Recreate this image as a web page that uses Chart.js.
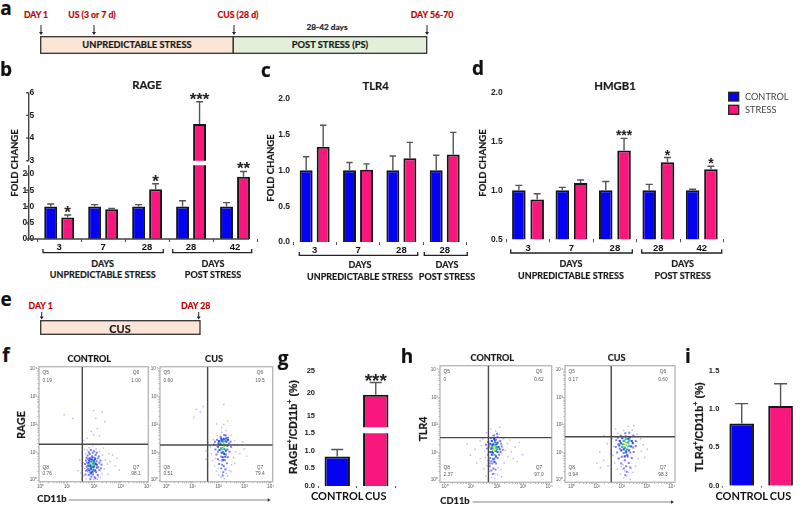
<!DOCTYPE html>
<html><head><meta charset="utf-8">
<script src="https://cdn.jsdelivr.net/npm/chart.js@4"></script>
<style>
html,body{margin:0;padding:0;background:#fff;width:800px;height:505px;overflow:hidden}
#page{position:relative;width:800px;height:505px;overflow:hidden}
canvas{position:absolute}
svg{position:absolute;left:0;top:0}
.t{position:absolute;white-space:nowrap;font-family:Lato,sans-serif;font-weight:700;color:#1a1a1a;line-height:1;-webkit-text-stroke:.2px currentColor}
sup{font-size:70%;line-height:0}
</style></head><body><div id="page"></div>
<script>
const BLUE='#0303f2', PINK='#f9177e';
// Panel b: RAGE
const bCats=['3','7','28','28','42'];
const bControl=[1,1,1,1,1];
const bControlTop=[1.08,1.06,1.06,1.18,1.12];
const bStress=[0.66,0.92,1.53,4.62,1.92];
const bStressTop=[0.74,0.94,1.70,5.60,2.08];
const bStars=['*','','*','***','**'];
// Panel c: TLR4
const cCats=['3','7','28','28'];
const cControl=[1,1,1,1];
const cControlTop=[1.19,1.11,1.20,1.21];
const cStress=[1.33,1.01,1.17,1.22];
const cStressTop=[1.63,1.09,1.39,1.53];
// Panel d: HMGB1
const dCats=['3','7','28','28','42'];
const dControl=[1,1,1,1,1];
const dControlTop=[1.05,1.03,1.09,1.06,1.01];
const dStress=[0.905,1.075,1.405,1.285,1.215];
const dStressTop=[0.965,1.105,1.53,1.335,1.245];
const dStars=['','','***','*','*'];
// Panel g, i
const gCats=['CONTROL','CUS'];
const gValues=[0.84,19.7];
const gTops=[1.04,22.4];
const iCats=['CONTROL','CUS'];
const iValues=[0.81,1.04];
const iTops=[1.07,1.33];
// Flow panels: log-decade coordinates, flat x,y lists by density colour
const f1Sparse=[1.62,.15,1.7,.05,1.75,.3,1.66,.42,1.6,.62,1.58,.8,1.68,.95,1.74,1.08,1.82,1.16,1.95,1.22,2.08,1.12,2.2,1.02,2.32,.9,2.42,.72,2.5,.58,2.38,.4,2.3,.22,2.24,.08,2.12,.03,1.98,.02,1.85,.06,1.55,.5,2.6,.66,2.78,.5,2.95,.36,2.7,.9,2.52,.2,1.4,.34,1.46,.72,2.86,.78,1.75,1.5,1.98,1.62,2.12,1.85,2.06,2.22,2.3,2.45,1.98,2.5,1.62,1.42,.88,2.35,1.2,2.22,2.4,2.1,2.2,1.6,1.9,1.75,2.35,1.15,2.15,.12,1.5,.25,2.55,.95,1.64,1.1];
const f1Mid=[1.68,.2,1.72,.48,1.7,.7,1.76,.88,1.8,1.0,1.88,1.08,2.0,1.04,2.1,.98,2.18,.85,2.24,.7,2.28,.55,2.2,.35,2.14,.18,2.02,.1,1.9,.12,1.8,.18,1.74,.36,1.66,.58,1.72,.8,1.84,.94,1.95,.98,2.06,.9,2.14,.78,2.2,.62,2.16,.46,2.08,.28,1.96,.2,1.84,.28,1.78,.42,1.74,.62,1.78,.76,1.92,.86,2.02,.8,2.1,.68,1.7,.33,2.26,.42,1.86,.03,2.05,.06];
const f1Dense=[1.82,.35,1.86,.5,1.8,.62,1.84,.78,1.92,.74,2.0,.7,2.06,.58,2.1,.45,2.04,.34,1.94,.3,1.88,.42,1.98,.46,1.82,.7,2.04,.76,1.88,.24,2.1,.55,1.78,.52,1.94,.82];
const f1Core=[1.86,.56,1.9,.66,1.96,.6,2.0,.52,1.94,.48,1.9,.38,1.98,.36,2.02,.62,1.88,.74,1.92,.28];
const f1Hot=[1.93,.56,1.95,.66,1.98,.44,1.9,.48];
const f2Sparse=[1.68,1.2,1.72,.95,1.78,.7,1.84,.5,1.92,.32,2.0,.18,2.1,.1,2.22,.05,2.35,.14,2.42,.34,2.5,.55,2.58,.8,2.66,1.02,2.72,1.25,2.62,1.42,2.48,1.62,2.3,1.78,2.12,1.72,1.95,1.6,1.8,1.45,2.82,.95,2.98,1.12,3.08,.86,1.6,1.35,1.5,1.05,1.52,.75,2.2,2.0,2.35,2.12,1.92,2.02,1.4,2.65,1.15,2.55,1.3,2.45,1.05,2.25,2.2,2.72,2.48,.3,2.62,.6,1.98,.42,2.05,.7,2.28,.42,2.3,.24,1.88,.78,2.92,1.38,2.12,1.88];
const f2Mid=[1.82,1.28,1.88,1.1,1.92,.92,1.98,.75,2.02,.58,2.1,.42,2.18,.28,2.26,.38,2.32,.6,2.36,.82,2.42,1.02,2.48,1.2,2.46,1.38,2.36,1.52,2.22,1.62,2.08,1.56,1.94,1.45,1.86,1.38,2.14,.55,2.14,.7,2.24,.72,2.2,.5,2.1,.85,2.28,.92,1.98,1.02,2.34,1.1,2.02,1.3,1.96,1.22,2.4,1.32,2.16,.16,2.28,1.6];
const f2Dense=[1.98,1.2,2.02,1.4,2.1,1.5,2.2,1.48,2.3,1.38,2.34,1.24,2.28,1.06,2.22,.94,2.12,.98,2.04,1.08,2.06,1.26,2.16,.82,2.3,1.5,2.12,1.42,2.36,1.44,2.0,1.32,2.18,.72,2.26,.84];
const f2Core=[2.1,1.14,2.14,1.26,2.18,1.38,2.24,1.26,2.22,1.12,2.16,1.02,2.08,1.32,2.26,1.42,2.12,1.44,2.2,.96];
const f2Hot=[2.16,1.18,2.2,1.32,2.15,1.1,2.22,1.22,2.18,1.42];
const h1Sparse=[.98,.9,1.15,1.12,1.35,.78,1.22,.62,1.4,1.25,1.5,.4,1.58,.15,1.66,.05,1.78,.1,1.9,.06,2.02,.2,2.15,.38,2.28,.62,2.42,.85,2.55,1.02,2.7,1.2,2.86,1.36,2.62,.78,2.98,.92,1.46,1.5,1.52,1.05,1.6,1.72,1.76,1.85,1.95,1.78,2.08,1.66,2.25,1.5,2.4,1.32,2.1,1.92,1.82,1.62,1.72,.32,1.92,.22,2.04,.44,1.35,1.42,2.32,1.08,2.5,1.45,1.62,.52,.85,1.3,2.78,.66,1.55,.82,2.18,.12];
const h1Mid=[1.62,1.15,1.66,.92,1.68,.7,1.72,.5,1.78,.35,1.86,.42,1.96,.6,2.02,.8,2.14,1.02,2.18,1.22,2.12,1.42,2.02,1.56,1.88,1.62,1.76,1.52,1.66,1.38,1.7,1.22,1.74,.8,1.82,.6,1.9,.78,1.94,.38,1.84,.22,1.78,.68,2.08,.92,2.22,1.1,1.58,1.28,2.0,1.68,1.96,1.46,2.16,1.32,1.72,.6];
const h1Dense=[1.74,1.32,1.78,1.14,1.8,.92,1.86,.76,1.96,.86,2.02,1.02,2.06,1.2,2.02,1.36,1.92,1.46,1.8,1.42,1.74,1.02,1.84,1.28,1.98,1.3,1.9,.66,2.1,1.12,1.82,1.02,1.88,1.5];
const h1Core=[1.82,1.18,1.86,1.32,1.92,1.38,1.98,1.2,1.96,1.06,1.9,.92,1.84,.98,2.0,1.12,1.8,1.26,1.94,1.28];
const h1Hot=[1.88,1.14,1.92,1.06,1.9,1.22,1.84,1.08,1.94,1.16];
const h2Sparse=[1.12,1.02,1.28,.72,1.42,1.32,1.55,.95,1.62,1.5,1.68,1.22,1.72,.62,1.82,.4,1.95,.22,2.08,.08,2.2,.15,2.34,.02,2.45,.28,2.55,.5,2.66,.78,2.78,1.05,2.86,1.28,2.76,1.5,2.62,1.68,2.42,1.82,2.25,1.95,2.08,1.8,1.85,1.7,1.0,.62,1.45,.52,2.92,.82,3.02,1.12,1.3,1.62,1.75,1.85,2.38,.42,2.28,.28,2.12,.34,1.98,.5,2.48,1.98,2.05,.55,1.65,.9,1.15,.45];
const h2Mid=[1.78,1.45,1.76,1.2,1.82,1.0,1.88,.78,1.98,.6,2.08,.42,2.18,.5,2.28,.62,2.4,.8,2.48,1.02,2.56,1.24,2.56,1.42,2.46,1.62,2.3,1.72,2.14,1.7,1.96,1.62,1.84,1.54,2.0,.85,2.12,.72,2.24,.85,2.34,1.0,1.92,1.14,2.08,.98,2.2,.3,2.14,.18,2.46,1.18,2.34,.46,1.86,1.3];
const h2Dense=[1.92,1.42,1.9,1.26,1.98,1.08,2.08,1.12,2.18,1.0,2.28,1.08,2.38,1.22,2.4,1.42,2.32,1.55,2.16,1.58,2.02,1.52,2.22,.9,2.12,.86,2.44,1.34,1.96,1.34,2.26,1.5];
const h2Core=[2.04,1.3,2.08,1.42,2.16,1.48,2.26,1.36,2.3,1.24,2.2,1.12,2.12,1.18,2.02,1.2,2.3,1.44,2.16,1.05];
const h2Hot=[2.12,1.3,2.18,1.36,2.2,1.26,2.14,1.4,2.24,1.2];
const flowDecades=[0,1,2,3,4];

const page=document.getElementById('page');
const NS='http://www.w3.org/2000/svg';
const svg=document.createElementNS(NS,'svg');svg.setAttribute('width',800);svg.setAttribute('height',505);page.appendChild(svg);
function el(n,a){const e=document.createElementNS(NS,n);for(const k in a)e.setAttribute(k,a[k]);svg.appendChild(e);return e;}
function box(x1,y1,x2,y2,f,s,w){el('rect',{x:x1,y:y1,width:x2-x1,height:y2-y1,fill:f,stroke:s||'#333',"stroke-width":w==null?1.3:w});}
function arrow(x,y1,y2){el('line',{x1:x,y1:y1,x2:x,y2:y2-2,stroke:'#222',"stroke-width":1});el('path',{d:`M${x-2} ${y2-3}L${x+2} ${y2-3}L${x} ${y2}Z`,fill:'#222'});}
function bracket(x1,x2,y1,y2){el('path',{d:`M${x1} ${y1}L${x1} ${y2}L${x2} ${y2}L${x2} ${y1}`,fill:'none',stroke:'#222',"stroke-width":1.3});}
function hArrow(x1,x2,y){el('line',{x1:x1,y1:y,x2:x2-3,y2:y,stroke:'#666',"stroke-width":.8});el('path',{d:`M${x2-3} ${y-1.8}L${x2} ${y}L${x2-3} ${y+1.8}Z`,fill:'#333'});}
function txt(s,cx,cy,size,o){o=o||{};const d=document.createElement('div');d.className='t';d.innerHTML=s;
 d.style.fontSize=size+'px';d.style.left=cx+'px';d.style.top=cy+'px';
 if(o.font)d.style.fontFamily=o.font;if(o.color)d.style.color=o.color;if(o.weight){d.style.fontWeight=o.weight;d.style.webkitTextStroke='0';}
 d.style.transform=(o.left?'translate(0,-50%)':'translate(-50%,-50%)')+(o.rot?' rotate(-90deg)':'');
 page.appendChild(d);return d;}

const errorBars={id:'errorBars',afterDatasetsDraw(c,a,o){
 const ctx=c.ctx,Y=c.scales.y;ctx.save();
 c.data.datasets.forEach((ds,i)=>{const m=c.getDatasetMeta(i);
  ds.data.forEach((v,j)=>{if(v==null||v>Y.max)return;const top=ds.tops[j];const x=m.data[j].x,y0=Y.getPixelForValue(v),y1=Y.getPixelForValue(top);
   ctx.strokeStyle='#555';ctx.lineWidth=1.4;ctx.beginPath();ctx.moveTo(x,y0);ctx.lineTo(x,y1);ctx.moveTo(x-o.cap,y1);ctx.lineTo(x+o.cap,y1);ctx.stroke();
   const st=ds.stars&&ds.stars[j];if(st){ctx.fillStyle='#222';ctx.font=`bold ${o.starSize}px "Liberation Sans"`;ctx.textAlign='center';ctx.textBaseline='alphabetic';ctx.fillText(st,x,y1-o.starGap+o.starSize*.58);}
  });});
 ctx.strokeStyle='#444';ctx.lineWidth=1.4;ctx.beginPath();
 ctx.moveTo(o.axisX,Y.bottom+(o.showX?.7:0));ctx.lineTo(o.axisX,Y.top);
 Y.ticks.forEach(t=>{const p=Y.getPixelForValue(t.value);ctx.moveTo(o.axisX-2.5,p);ctx.lineTo(o.axisX,p);});
 if(o.showX){ctx.moveTo(o.axisX,Y.bottom);ctx.lineTo(o.axisRight,Y.bottom);}
 ctx.stroke();ctx.restore();}};

function barChart(c){
 const ML=46,MT=10,MR=12,MB=18;
 const cl=Math.floor(c.l-ML),ct=Math.floor(c.t-MT);
 const W=Math.ceil(c.r-cl+MR),H=Math.ceil(c.b-ct+MB);
 const cv=document.createElement('canvas');cv.width=W;cv.height=H;cv.style.left=cl+'px';cv.style.top=ct+'px';cv.style.width=W+'px';cv.style.height=H+'px';page.appendChild(cv);
 new Chart(cv,{type:'bar',plugins:[errorBars],
  data:{labels:c.labels,datasets:c.sets},
  options:{responsive:false,animation:false,devicePixelRatio:1,
   layout:{autoPadding:false,padding:{left:0,top:c.t-ct,right:W-(c.r-cl),bottom:c.showX?0:H-(c.b-ct)}},
   plugins:{legend:{display:false},tooltip:{enabled:false},errorBars:{cap:c.cap,starSize:c.starSize||17,starGap:c.starGap||5,axisX:c.axisX,axisRight:c.axisRight,showX:c.showX}},
   datasets:{bar:{categoryPercentage:c.catP,barPercentage:c.barP,borderWidth:2,borderColor:'#151515'}},
   scales:{
    x:{display:!!c.showX,offset:true,border:{display:false},grid:{drawOnChartArea:false,drawTicks:true,tickLength:c.xTickLen||3,color:'#555',lineWidth:1},
       ticks:{autoSkip:false,maxRotation:0,padding:c.xPad==null?0:c.xPad,color:'#111',font:{family:c.xFont||'"Liberation Sans"',weight:'bold',size:c.xSize||9.5}},
       afterFit(s){s.height=c.showX?H-(c.b-ct):0;}},
    y:{min:c.min,max:c.max,border:{display:false},grid:{display:false,drawTicks:false,drawOnChartArea:false},
       afterBuildTicks(s){s.ticks=c.ticks.map(v=>({value:v}));},
       ticks:{autoSkip:false,padding:c.yPad==null?3:c.yPad,color:'#222',font:{family:'"Liberation Sans"',weight:'bold',size:c.ySize||8.5},callback:v=>v.toFixed(c.dec)},
       afterFit(s){s.width=c.l-cl;}}
   }}});
}
function dual(ctrl,ctrlTop,stress,stressTop,stars,upperMin){
 const kept=a=>upperMin==null?a:a.map(v=>v>=upperMin?v:null);
 return [{label:'CONTROL',data:kept(ctrl),tops:ctrlTop,backgroundColor:BLUE},
         {label:'STRESS',data:kept(stress),tops:stressTop,stars:stars,backgroundColor:PINK}];
}
// b lower + upper
barChart({l:37.2,r:257,t:165.3,b:239,min:0,max:2.27,ticks:[0,.5,1,1.5,2],dec:1,labels:bCats,sets:dual(bControl,bControlTop,bStress,bStressTop,bStars),catP:.773,barP:.76,cap:3.5,axisX:37.7,axisRight:258,showX:true,starGap:7});
barChart({l:37.2,r:257,t:92.7,b:160.7,min:3,max:6,ticks:[3,4,5,6],dec:0,labels:bCats,sets:dual(bControl,bControlTop,bStress,bStressTop,bStars,3),catP:.773,barP:.76,cap:3.5,axisX:37.7,showX:false,starGap:7});
// c
barChart({l:293,r:466.4,t:98.7,b:242,min:0,max:2,ticks:[0,.5,1,1.5,2],dec:1,labels:cCats,sets:dual(cControl,cControlTop,cStress,cStressTop),catP:.785,barP:.76,cap:3.2,axisX:293.3,axisRight:471.7,showX:true});
// d
barChart({l:506.3,r:723.5,t:92.3,b:239.3,min:.5,max:2,ticks:[.5,1,1.5,2],dec:1,labels:dCats,sets:dual(dControl,dControlTop,dStress,dStressTop,dStars),catP:.843,barP:.74,cap:3.5,axisX:504.3,axisRight:725.7,showX:true,yPad:3.6,starSize:14,starGap:6});
// g lower + upper
function single(v,t,st){return [{data:v,tops:t,stars:st,backgroundColor:[BLUE,PINK]}];}
barChart({l:318,r:395,t:433.3,b:486,min:0,max:1.5,ticks:[0,.5,1,1.5],dec:1,labels:gCats,sets:single(gValues,gTops),catP:1,barP:.66,cap:6,axisX:317.3,axisRight:395.7,showX:true,xFont:'Lato',xSize:11,xTickLen:2,xPad:2,ySize:7.5});
barChart({l:318,r:395,t:370.7,b:427.3,min:12.5,max:25,ticks:[15,20,25],dec:0,labels:gCats,sets:single(gValues.map(v=>v>=12.5?v:null),gTops,['','***']),catP:1,barP:.66,cap:6,axisX:317.3,showX:false,ySize:7.5,starSize:19,starGap:6});
// i
barChart({l:722.3,r:800,t:370.7,b:485.7,min:0,max:1.5,ticks:[0,.5,1,1.5],dec:1,labels:iCats,sets:single(iValues,iTops),catP:1,barP:.635,cap:6.5,axisX:722.3,axisRight:800,showX:true,xFont:'Lato',xSize:11,xTickLen:2,xPad:2,ySize:7.5});

function pairs(f){const o=[];for(let i=0;i<f.length;i+=2)o.push({x:f[i],y:f[i+1]});return o;}
const frame={id:'frame',beforeDatasetsDraw(c){const a=c.chartArea,x=c.ctx;x.save();x.strokeStyle='#b5b5b5';x.lineWidth=1.3;x.strokeRect(a.left,a.top,a.width,a.height);x.restore();}};
function flow(c){
 const ML=14,MT=4,MR=4,MB=10;
 const cl=Math.floor(c.l-ML),ct=Math.floor(c.t-MT);
 const W=Math.ceil(c.r-cl+MR),H=Math.ceil(c.b-ct+MB);
 const cv=document.createElement('canvas');cv.width=W;cv.height=H;cv.style.left=cl+'px';cv.style.top=ct+'px';cv.style.width=W+'px';cv.style.height=H+'px';page.appendChild(cv);
 const layer=(d,col,r)=>({data:pairs(d),backgroundColor:col,borderWidth:0,pointRadius:r,pointStyle:'rect',showLine:false,order:2});
 const gate=(d)=>({data:d,borderColor:'#4a4a4a',borderWidth:1.4,pointRadius:0,showLine:true,order:1});
 const minor=v=>{const o=[];flowDecades.forEach(n=>{o.push({value:n});if(n<4)for(let k=2;k<10;k++)o.push({value:n+Math.log10(k)});});return o.filter(t=>t.value>=v.min&&t.value<=v.max);};
 const labelOf=v=>{const i=flowDecades.indexOf(v);return i<0?'':'10'+'⁰¹²³⁴'[i];};
 const axisOpt=(rng,fit)=>({min:rng[0],max:rng[1],border:{display:false},grid:{drawOnChartArea:false,drawTicks:true,tickLength:1.6,color:'#777',lineWidth:.5},
   afterBuildTicks(s){s.ticks=minor(s);},
   ticks:{autoSkip:false,maxRotation:0,padding:.5,color:'#555',font:{family:'"Liberation Sans"',size:4.6},callback:labelOf},afterFit:fit});
 new Chart(cv,{type:'scatter',plugins:[frame],
  data:{datasets:[gate([{x:c.gx,y:c.yr[0]},{x:c.gx,y:c.yr[1]}]),gate([{x:c.xr[0],y:c.gy},{x:c.xr[1],y:c.gy}]),
    layer(c.pts[0],'rgba(178,180,248,.95)',1),layer(c.pts[1],'rgba(112,114,244,.92)',1.4),layer(c.pts[2],'rgba(44,66,228,.92)',1.5),layer(c.pts[3],'#23b49a',1.5),layer(c.pts[4],'#8fd93a',1.1)]},
  options:{responsive:false,animation:false,devicePixelRatio:1,
   layout:{autoPadding:false,padding:{left:0,top:c.t-ct,right:W-(c.r-cl),bottom:0}},
   plugins:{legend:{display:false},tooltip:{enabled:false}},
   scales:{x:axisOpt(c.xr,s=>{s.height=H-(c.b-ct);}),y:axisOpt(c.yr,s=>{s.width=c.l-cl;})}}});
 const sm={font:'"Liberation Sans"',weight:400,color:'#555'};
 txt('Q5',c.l+3.5,c.t+6.5,4.8,{...sm,left:true});txt(c.q[0],c.l+3.5,c.t+14,4.8,{...sm,left:true});
 txt('Q6',c.qr,c.t+6.5,4.8,sm);txt(c.q[1],c.qr,c.t+14,4.8,sm);
 txt('Q8',c.l+3.5,c.b-14,4.8,{...sm,left:true});txt(c.q[2],c.l+3.5,c.b-7.5,4.8,{...sm,left:true});
 txt('Q7',c.qr,c.b-14,4.8,sm);txt(c.q[3],c.qr,c.b-7.5,4.8,sm);
}
flow({l:39,r:148.3,t:366.7,b:481.7,xr:[-.06,4.03],yr:[-.06,4.08],gx:1.56,gy:1.29,pts:[f1Sparse,f1Mid,f1Dense,f1Core,f1Hot],q:['0.19','1.00','0.76','98.1'],qr:136});
flow({l:160,r:272.7,t:366.7,b:481.7,xr:[-.25,4.08],yr:[-.06,4.08],gx:1.58,gy:1.26,pts:[f2Sparse,f2Mid,f2Dense,f2Core,f2Hot],q:['0.60','19.5','0.51','79.4'],qr:260});
flow({l:440,r:551.7,t:365.7,b:482.3,xr:[-.19,4.1],yr:[-.08,4.15],gx:1.67,gy:1.54,pts:[h1Sparse,h1Mid,h1Dense,h1Core,h1Hot],q:['0','0.62','2.37','97.0'],qr:539});
flow({l:565,r:675,t:365.7,b:482.3,xr:[-.27,4.13],yr:[-.08,4.15],gx:1.58,gy:1.57,pts:[h2Sparse,h2Mid,h2Dense,h2Core,h2Hot],q:['0.17','0.60','0.94','98.3'],qr:663});

// Timelines
box(40.7,36.7,233.3,53.3,'#fbe5d6');box(233.3,36.7,426.7,53.3,'#e2f0d9');
box(40.7,320.7,200,334.3,'#fbe5d6');
[41,94,234,427].forEach(x=>arrow(x,25,35));
[41.7,198.7].forEach(x=>arrow(x,312,319.5));
const RED='#c00000';
[['DAY 1',36],['US (3 or 7 d)',92],['CUS (28 d)',238],['DAY 56-70',432]].forEach(a=>txt(a[0],a[1],15,8.7,{color:RED}));
txt('28-42 days',327,27,8.3);
txt('UNPREDICTABLE STRESS',137,45,9.3);txt('POST STRESS (PS)',330,45,9.3);
txt('DAY 1',40.7,306,8.7,{color:RED});txt('DAY 28',195.7,306,8.7,{color:RED});
txt('CUS',120,328,11);
// Panel letters
[['a',6,8],['b',6,69],['c',266,70],['d',478,68],['e',6,299],['f',6,355],['g',283,358],['h',407,356],['i',688,356]].forEach(a=>txt(a[0],a[1],a[2],19,{font:'"Open Sans"',color:'#111'}));
// Titles
txt('RAGE',147,85,11.3);txt('TLR4',375.7,86,11.3);txt('HMGB1',615,85.7,11.3);
txt('FOLD CHANGE',14.7,163,9.5,{rot:true});txt('FOLD CHANGE',271,167.7,9.5,{rot:true});txt('FOLD CHANGE',483.3,163,9.5,{rot:true});
// Group brackets and captions
bracket(43,163.3,249,252.7);bracket(172.7,251.7,249,252.7);
bracket(299.3,417.7,252,255.3);bracket(424.3,467.3,252,255.3);
bracket(510.7,632.3,249.3,253);bracket(641.7,721.7,249.3,253);
[[102.7,262.7,274,'UNPREDICTABLE STRESS'],[213,262.7,274,'POST STRESS'],[360,264.3,276,'UNPREDICTABLE STRESS'],[447,264.3,276,'POST STRESS'],[571,262.7,274.7,'UNPREDICTABLE STRESS'],[682.7,262.7,274.7,'POST STRESS']].forEach(a=>{txt('DAYS',a[0],a[1],9);txt(a[3],a[0],a[2],9);});
// Legend
box(728.7,92.3,738.7,101,BLUE,'#222',1.3);box(728.7,105.3,738.7,114.3,PINK,'#222',1.3);
txt('CONTROL',745,96.7,9.2,{left:true,weight:400,color:'#444'});txt('STRESS',745,110,9.2,{left:true,weight:400,color:'#444'});
// Flow captions
txt('CONTROL',89.3,358.7,9.1);txt('CUS',214,358.7,9.1);txt('CONTROL',492.3,358,9.1);txt('CUS',616.7,358,9.1);
txt('RAGE',20.7,425,10.5,{rot:true});txt('TLR4',422.7,429,10.5,{rot:true});
txt('CD11b',52,499,9.3);txt('CD11b',455,501,9.3);
hArrow(69,270.7,500);hArrow(472.7,674,502);
txt('RAGE<sup>+</sup>/CD11b<sup>+</sup> (%)',293,426.7,10.5,{rot:true,font:'"Liberation Sans"'});
txt('TLR4<sup>+</sup>/CD11b<sup>+</sup> (%)',699,426.7,10.5,{rot:true,font:'"Liberation Sans"'});
</script></body></html>
